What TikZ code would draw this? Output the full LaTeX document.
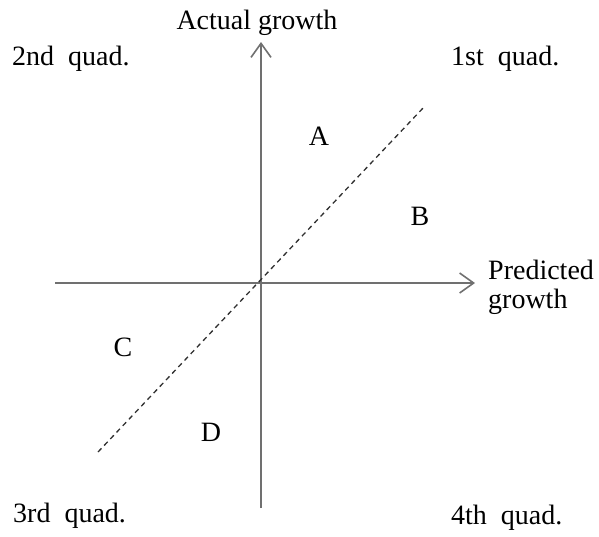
\documentclass[tikz,border=0pt]{standalone}
\usepackage{fontspec}
\setmainfont{Liberation Serif}
\usepackage{tikz}
\usetikzlibrary{arrows.meta}
\definecolor{axisgray}{HTML}{707070}
\definecolor{diaggray}{HTML}{303030}

\begin{document}
\begin{tikzpicture}[x=1pt,y=-1pt,
  lbl/.style={inner sep=0pt,font=\fontsize{28}{29}\selectfont},
  axis/.style={axisgray,line width=1.6pt,-{Straight Barb[length=14pt,width=20pt]}}]
  \useasboundingbox (0,0) rectangle (599,536);
  \coordinate (xl) at (55,283);
  \coordinate (xr) at (475,283);
  \coordinate (yb) at (261,508);
  \coordinate (yt) at (261,42);
  \coordinate (dl) at (98,452);
  \coordinate (du) at (424,107);
  \draw[axis] (xl)--(xr);
  \draw[axis] (yb)--(yt);
  \draw[diaggray,line width=1.3pt,dash pattern=on 5pt off 4pt] (dl)--(du);
  \node[lbl,anchor=base] (ylab) at (257,29) {Actual growth};
  \node[lbl,anchor=west,align=left] (xlab) at (488,287) {Predicted\\growth};
  \node[lbl,anchor=base west] (q2) at (12,65) {2nd\ \ quad.};
  \node[lbl,anchor=base west] (q1) at (451,65) {1st\ \ quad.};
  \node[lbl,anchor=base west] (q3) at (13,522) {3rd\ \ quad.};
  \node[lbl,anchor=base west] (q4) at (451,524) {4th\ \ quad.};
  \node[lbl] (ra) at (319,136) {A};
  \node[lbl] (rb) at (420,216) {B};
  \node[lbl] (rc) at (123,347) {C};
  \node[lbl] (rd) at (211,432) {D};
\end{tikzpicture}
\end{document}
